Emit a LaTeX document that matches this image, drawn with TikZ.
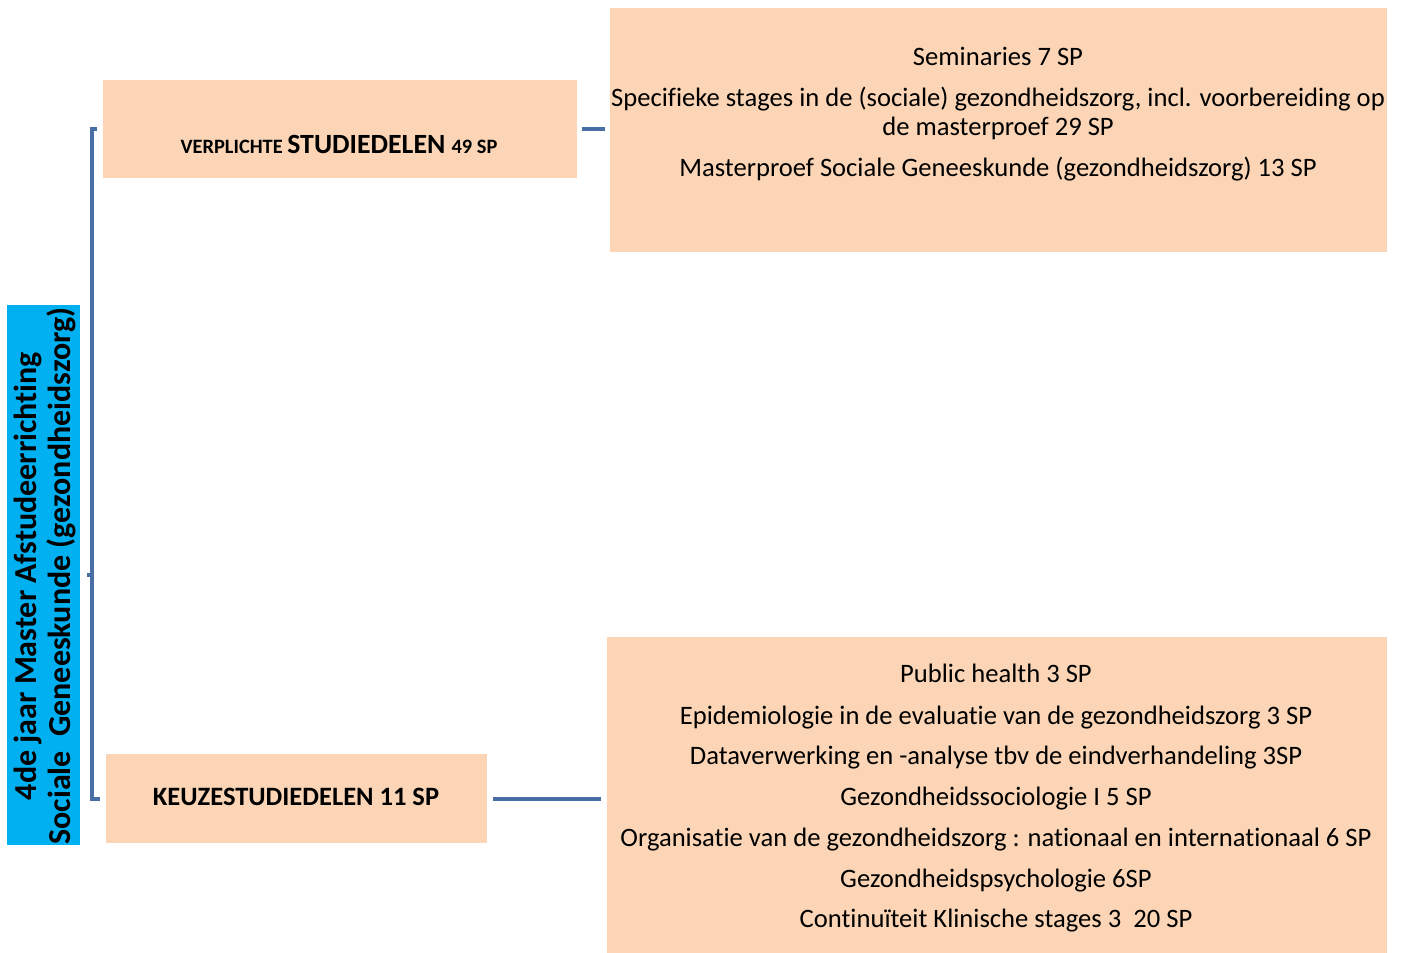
\documentclass[tikz,border=0pt]{standalone}
\usepackage{fontspec}
\setmainfont[Ligatures={NoCommon}]{Carlito}
\definecolor{peach}{RGB}{251,213,181}
\definecolor{titleblue}{RGB}{0,176,240}
\definecolor{connblue}{RGB}{72,110,165}
\begin{document}
\begin{tikzpicture}[x=0.5pt,y=-0.5pt,
  box/.style={draw=none,fill=peach,inner sep=0pt,rectangle},
  conn/.style={draw=connblue,line width=2pt},
  itemtext/.style={anchor=base,inner sep=0pt,font=\fontsize{13.3}{15}\selectfont}]
\useasboundingbox (0,0) rectangle (1404,953);
% title
\node[box,fill=titleblue,minimum width=36.5pt,minimum height=270pt] (title) at (43.5,575) {};
\node[rotate=90,align=center,inner sep=0pt,font=\bfseries\fontsize{16}{17}\selectfont] (titletext) at (45,576)
  {4de jaar Master Afstudeerrichting\\Sociale\ \ Geneeskunde (gezondheidszorg)};
% level 1 boxes
\node[box,minimum width=237pt,minimum height=49pt] (verp) at (340,129) {};
\node[anchor=base,inner sep=0pt,font=\bfseries] (verptext) at (339,153)
  {\fontsize{10.2}{12}\selectfont VERPLICHTE \fontsize{13.9}{15}\selectfont STUDIEDELEN \fontsize{10.2}{12}\selectfont 49 SP};
\node[box,minimum width=190.5pt,minimum height=44.5pt] (keuze) at (296.5,798.5) {};
\node[anchor=base,inner sep=0pt,font=\bfseries\fontsize{13.25}{15}\selectfont] (keuzetext) at (296,805) {KEUZESTUDIEDELEN 11 SP};
% level 2 boxes
\node[box,minimum width=388.5pt,minimum height=122pt] (verplist) at (998.5,130) {};
\node[box,minimum width=390pt,minimum height=158pt] (keuzelist) at (997,795) {};
\foreach \yy/\txt in {65/{Seminaries 7 SP},
  106/{Specifieke stages in de (sociale) gezondheidszorg, incl. voorbereiding op},
  135/{de masterproef 29 SP},
  176/{Masterproef Sociale Geneeskunde (gezondheidszorg) 13 SP}}
  \node[itemtext] (v\yy) at (998,\yy) {\txt};
\foreach \yy/\txt in {682/{Public health 3 SP},
  724/{Epidemiologie in de evaluatie van de gezondheidszorg 3 SP},
  764/{Dataverwerking en -analyse tbv de eindverhandeling 3SP},
  805/{Gezondheidssociologie I 5 SP},
  846/{Organisatie van de gezondheidszorg : nationaal en internationaal 6 SP},
  887/{Gezondheidspsychologie 6SP},
  927/{Continuïteit Klinische stages 3\ \ 20 SP}}
  \node[itemtext] (k\yy) at (996,\yy) {\txt};
% bracket
\draw[conn] ([xshift=3.5pt]title.east) -- ([xshift=6pt]title.east) |- ([xshift=-3pt]verp.west);
\draw[conn] ([xshift=6pt]title.east) |- ([xshift=-3pt]keuze.west);
% connectors
\draw[conn,shorten <=2.5pt,shorten >=2.5pt] (verp.east) -- (verp.east -| verplist.west);
\draw[conn,shorten <=3pt,shorten >=3pt] (keuze.east) -- (keuze.east -| keuzelist.west);
\end{tikzpicture}
\end{document}
